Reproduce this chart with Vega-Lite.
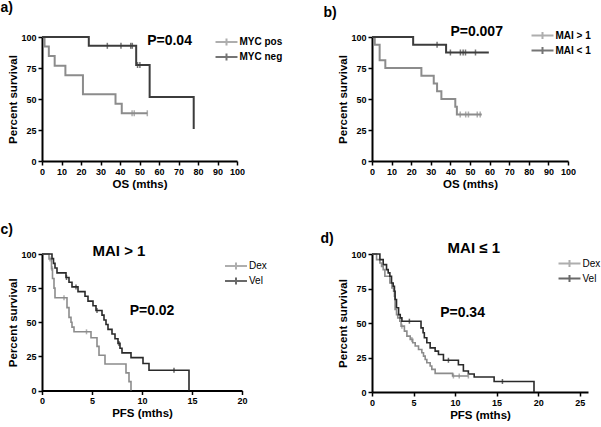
{
  "$schema": "https://vega.github.io/schema/vega-lite/v6.json",
  "background": "white",
  "padding": {"left": 0, "top": 1, "right": 0, "bottom": 0},
  "datasets": {
    "km": [
      {"p":"a","g":"MYC pos","t":0,"s":100},{"p":"a","g":"MYC pos","t":1.3,"s":92.3},{"p":"a","g":"MYC pos","t":3.5,"s":84.6},{"p":"a","g":"MYC pos","t":6.5,"s":76.9},{"p":"a","g":"MYC pos","t":12,"s":69.2},{"p":"a","g":"MYC pos","t":21,"s":53.8},{"p":"a","g":"MYC pos","t":37.7,"s":46.2},{"p":"a","g":"MYC pos","t":40.9,"s":38.5},{"p":"a","g":"MYC pos","t":54,"s":38.5},
      {"p":"a","g":"MYC neg","t":0,"s":100},{"p":"a","g":"MYC neg","t":24,"s":92.9},{"p":"a","g":"MYC neg","t":48.3,"s":77.4},{"p":"a","g":"MYC neg","t":55.2,"s":51.6},{"p":"a","g":"MYC neg","t":77.8,"s":25.8},
      {"p":"b","g":"MAI > 1","t":0,"s":100},{"p":"b","g":"MAI > 1","t":1.4,"s":93.75},{"p":"b","g":"MAI > 1","t":3.9,"s":81.25},{"p":"b","g":"MAI > 1","t":6.8,"s":75},{"p":"b","g":"MAI > 1","t":25.2,"s":68.75},{"p":"b","g":"MAI > 1","t":31.5,"s":62.5},{"p":"b","g":"MAI > 1","t":33.2,"s":56.25},{"p":"b","g":"MAI > 1","t":35.4,"s":50},{"p":"b","g":"MAI > 1","t":42.5,"s":43.75},{"p":"b","g":"MAI > 1","t":43.3,"s":37.5},{"p":"b","g":"MAI > 1","t":56,"s":37.5},
      {"p":"b","g":"MAI < 1","t":0,"s":100},{"p":"b","g":"MAI < 1","t":21,"s":93.75},{"p":"b","g":"MAI < 1","t":37.8,"s":87.5},{"p":"b","g":"MAI < 1","t":59.6,"s":87.5},
      {"p":"c","g":"Dex","t":0,"s":100},{"p":"c","g":"Dex","t":0.7,"s":96.4},{"p":"c","g":"Dex","t":0.95,"s":89.3},{"p":"c","g":"Dex","t":1.05,"s":82.1},{"p":"c","g":"Dex","t":1.2,"s":75},{"p":"c","g":"Dex","t":1.3,"s":67.9},{"p":"c","g":"Dex","t":2.5,"s":60.7},{"p":"c","g":"Dex","t":2.7,"s":53.6},{"p":"c","g":"Dex","t":2.9,"s":50},{"p":"c","g":"Dex","t":3.0,"s":46.4},{"p":"c","g":"Dex","t":3.2,"s":43},{"p":"c","g":"Dex","t":4.9,"s":38.7},{"p":"c","g":"Dex","t":5.5,"s":32.3},{"p":"c","g":"Dex","t":5.7,"s":25.8},{"p":"c","g":"Dex","t":6.3,"s":19.4},{"p":"c","g":"Dex","t":8.4,"s":12.9},{"p":"c","g":"Dex","t":8.7,"s":6.5},{"p":"c","g":"Dex","t":8.9,"s":0},
      {"p":"c","g":"Vel","t":0,"s":100},{"p":"c","g":"Vel","t":1.0,"s":96.6},{"p":"c","g":"Vel","t":1.15,"s":93.1},{"p":"c","g":"Vel","t":1.3,"s":89.7},{"p":"c","g":"Vel","t":1.5,"s":86.2},{"p":"c","g":"Vel","t":2.4,"s":82.8},{"p":"c","g":"Vel","t":2.7,"s":79.3},{"p":"c","g":"Vel","t":3.0,"s":75.9},{"p":"c","g":"Vel","t":3.6,"s":72.4},{"p":"c","g":"Vel","t":4.3,"s":69},{"p":"c","g":"Vel","t":4.6,"s":65.5},{"p":"c","g":"Vel","t":5.1,"s":62.1},{"p":"c","g":"Vel","t":5.4,"s":58.6},{"p":"c","g":"Vel","t":6.0,"s":55.2},{"p":"c","g":"Vel","t":6.2,"s":51.7},{"p":"c","g":"Vel","t":6.4,"s":48.3},{"p":"c","g":"Vel","t":6.6,"s":44.8},{"p":"c","g":"Vel","t":7.0,"s":41.4},{"p":"c","g":"Vel","t":7.3,"s":37.9},{"p":"c","g":"Vel","t":7.6,"s":34.5},{"p":"c","g":"Vel","t":7.8,"s":31},{"p":"c","g":"Vel","t":8.0,"s":27.6},{"p":"c","g":"Vel","t":8.9,"s":24.1},{"p":"c","g":"Vel","t":10.1,"s":19.8},{"p":"c","g":"Vel","t":10.7,"s":14.8},{"p":"c","g":"Vel","t":14.7,"s":0},
      {"p":"d","g":"Dex","t":0,"s":100},{"p":"d","g":"Dex","t":0.55,"s":95.9},{"p":"d","g":"Dex","t":0.95,"s":93.5},{"p":"d","g":"Dex","t":1.15,"s":91},{"p":"d","g":"Dex","t":1.35,"s":88.7},{"p":"d","g":"Dex","t":1.55,"s":83.9},{"p":"d","g":"Dex","t":2.15,"s":79},{"p":"d","g":"Dex","t":2.4,"s":75.4},{"p":"d","g":"Dex","t":2.6,"s":73},{"p":"d","g":"Dex","t":2.7,"s":69.4},{"p":"d","g":"Dex","t":2.78,"s":59.8},{"p":"d","g":"Dex","t":2.95,"s":56.1},{"p":"d","g":"Dex","t":3.1,"s":53.7},{"p":"d","g":"Dex","t":3.35,"s":51.3},{"p":"d","g":"Dex","t":3.5,"s":47.7},{"p":"d","g":"Dex","t":3.9,"s":44.1},{"p":"d","g":"Dex","t":4.2,"s":40.5},{"p":"d","g":"Dex","t":4.6,"s":38.1},{"p":"d","g":"Dex","t":4.9,"s":35.7},{"p":"d","g":"Dex","t":5.2,"s":33.3},{"p":"d","g":"Dex","t":5.6,"s":30.8},{"p":"d","g":"Dex","t":6.0,"s":28.4},{"p":"d","g":"Dex","t":6.2,"s":26},{"p":"d","g":"Dex","t":6.4,"s":23.6},{"p":"d","g":"Dex","t":6.6,"s":21.2},{"p":"d","g":"Dex","t":7.0,"s":18.8},{"p":"d","g":"Dex","t":7.2,"s":16.4},{"p":"d","g":"Dex","t":7.6,"s":13.5},{"p":"d","g":"Dex","t":9.7,"s":11.6},{"p":"d","g":"Dex","t":11.6,"s":11.6},
      {"p":"d","g":"Vel","t":0,"s":100},{"p":"d","g":"Vel","t":0.95,"s":95.9},{"p":"d","g":"Vel","t":1.35,"s":92.3},{"p":"d","g":"Vel","t":1.75,"s":88.7},{"p":"d","g":"Vel","t":1.95,"s":86.3},{"p":"d","g":"Vel","t":2.15,"s":83.9},{"p":"d","g":"Vel","t":2.35,"s":79},{"p":"d","g":"Vel","t":2.55,"s":76.6},{"p":"d","g":"Vel","t":2.7,"s":73},{"p":"d","g":"Vel","t":2.78,"s":67},{"p":"d","g":"Vel","t":2.95,"s":61},{"p":"d","g":"Vel","t":3.2,"s":56.1},{"p":"d","g":"Vel","t":3.4,"s":53.7},{"p":"d","g":"Vel","t":3.6,"s":51.3},{"p":"d","g":"Vel","t":5.9,"s":46.5},{"p":"d","g":"Vel","t":6.15,"s":42.9},{"p":"d","g":"Vel","t":6.3,"s":39.3},{"p":"d","g":"Vel","t":6.6,"s":35.7},{"p":"d","g":"Vel","t":7.0,"s":32},{"p":"d","g":"Vel","t":7.6,"s":29.6},{"p":"d","g":"Vel","t":8.0,"s":27.2},{"p":"d","g":"Vel","t":8.6,"s":23},{"p":"d","g":"Vel","t":10.4,"s":19.8},{"p":"d","g":"Vel","t":11.0,"s":15.2},{"p":"d","g":"Vel","t":11.6,"s":13},{"p":"d","g":"Vel","t":12.3,"s":10.9},{"p":"d","g":"Vel","t":14.7,"s":7.6},{"p":"d","g":"Vel","t":19.5,"s":0}
    ],
    "cens": [
      {"p":"a","g":"MYC pos","t":46.2,"s":38.5},{"p":"a","g":"MYC pos","t":47.3,"s":38.5},{"p":"a","g":"MYC pos","t":54,"s":38.5},
      {"p":"a","g":"MYC neg","t":33.5,"s":92.9},{"p":"a","g":"MYC neg","t":40.5,"s":92.9},{"p":"a","g":"MYC neg","t":45.5,"s":92.9},{"p":"a","g":"MYC neg","t":46.3,"s":92.9},{"p":"a","g":"MYC neg","t":49.0,"s":77.4},{"p":"a","g":"MYC neg","t":50.2,"s":77.4},
      {"p":"b","g":"MAI > 1","t":45,"s":37.5},{"p":"b","g":"MAI > 1","t":47.8,"s":37.5},{"p":"b","g":"MAI > 1","t":49.2,"s":37.5},{"p":"b","g":"MAI > 1","t":53.7,"s":37.5},{"p":"b","g":"MAI > 1","t":55.2,"s":37.5},
      {"p":"b","g":"MAI < 1","t":33.2,"s":93.75},{"p":"b","g":"MAI < 1","t":40,"s":87.5},{"p":"b","g":"MAI < 1","t":45.1,"s":87.5},{"p":"b","g":"MAI < 1","t":46.5,"s":87.5},{"p":"b","g":"MAI < 1","t":47.7,"s":87.5},{"p":"b","g":"MAI < 1","t":52.8,"s":87.5},
      {"p":"c","g":"Dex","t":0.8,"s":96.4},{"p":"c","g":"Dex","t":1.0,"s":89.3},{"p":"c","g":"Dex","t":2.2,"s":67.9},{"p":"c","g":"Dex","t":4.45,"s":43},
      {"p":"c","g":"Vel","t":2.45,"s":82.8},{"p":"c","g":"Vel","t":3.4,"s":75.9},{"p":"c","g":"Vel","t":5.5,"s":58.6},{"p":"c","g":"Vel","t":7.7,"s":34.5},{"p":"c","g":"Vel","t":13.2,"s":14.8},
      {"p":"d","g":"Dex","t":3.6,"s":47.7},{"p":"d","g":"Dex","t":4.8,"s":38.1},{"p":"d","g":"Dex","t":9.8,"s":11.6},{"p":"d","g":"Dex","t":10.5,"s":11.6},{"p":"d","g":"Dex","t":11.6,"s":11.6},
      {"p":"d","g":"Vel","t":4.5,"s":51.3},{"p":"d","g":"Vel","t":9.2,"s":23},{"p":"d","g":"Vel","t":15.7,"s":7.6}
    ]
  },
  "config": {
    "view": {"stroke": null},
    "font": "Liberation Sans",
    "axis": {"grid": false, "tickCount": 30, "format": "d", "labelFlush": false, "labelOverlap": false, "domainColor": "black", "domainWidth": 2, "tickColor": "black", "tickWidth": 1.5, "tickSize": 4, "labelFont": "Liberation Sans", "labelFontWeight": "bold", "labelFontSize": 9, "labelColor": "black", "labelPadding": 2, "titleFont": "Liberation Sans", "titleFontSize": 11.5, "titleFontWeight": "bold", "titleColor": "black", "titlePadding": 2},
    "legend": {"orient": "none", "title": null, "symbolType": "M-2.44,0H2.44M0,-0.8V0.8", "symbolSize": 81, "symbolStrokeWidth": 2, "labelFont": "Liberation Sans", "labelFontSize": 10, "labelColor": "black", "labelOffset": 7.5, "rowPadding": -2},
    "title": {"anchor": "start", "frame": "bounds", "fontSize": 14, "fontWeight": "bold", "font": "Liberation Sans", "color": "black"}
  },
  "columns": 2,
  "align": "none",
  "bounds": "flush",
  "spacing": {"row": 93, "column": 130},
  "resolve": {"scale": {"color": "independent"}, "legend": {"color": "independent"}},
  "concat": [
    {
      "width": 195, "height": 124,
      "title": {"text": "a)", "dx": -7.5, "offset": 18},
      "layer": [
        {"data": {"name": "km"}, "transform": [{"filter": "datum.p == 'a'"}],
         "mark": {"type": "line", "interpolate": "step-after", "strokeWidth": 2},
         "encoding": {
           "x": {"field": "t", "type": "quantitative", "scale": {"domain": [0, 100]}, "axis": {"values": [0,10,20,30,40,50,60,70,80,90,100], "title": "OS (mths)"}},
           "y": {"field": "s", "type": "quantitative", "scale": {"domain": [0, 100]}, "axis": {"values": [0,25,50,75,100], "title": "Percent survival"}},
           "color": {"field": "g", "type": "nominal", "scale": {"domain": ["MYC pos", "MYC neg"], "range": ["#8c8c8c", "#3c3c3c"]}, "legend": {"legendX": 179, "legendY": -0.5, "labelFontWeight": "bold"}},
           "order": {"field": "t"}
         }},
        {"data": {"name": "cens"}, "transform": [{"filter": "datum.p == 'a'"}],
         "mark": {"type": "tick", "orient": "vertical", "size": 6, "thickness": 1.5},
         "encoding": {"x": {"field": "t", "type": "quantitative"}, "y": {"field": "s", "type": "quantitative"}, "color": {"field": "g", "type": "nominal"}}},
        {"data": {"values": [{}]},
         "mark": {"type": "text", "fontSize": 14, "fontWeight": "bold", "font": "Liberation Sans", "color": "black", "align": "center", "baseline": "middle"},
         "encoding": {"x": {"datum": 65.4}, "y": {"datum": 97}, "text": {"value": "P=0.04"}}}
      ]
    },
    {
      "width": 196, "height": 124,
      "title": {"text": "b)", "dx": -14.5, "offset": 7, "dy": 2},
      "layer": [
        {"data": {"name": "km"}, "transform": [{"filter": "datum.p == 'b'"}],
         "mark": {"type": "line", "interpolate": "step-after", "strokeWidth": 2},
         "encoding": {
           "x": {"field": "t", "type": "quantitative", "scale": {"domain": [0, 100]}, "axis": {"values": [0,10,20,30,40,50,60,70,80,90,100], "title": "OS (mths)"}},
           "y": {"field": "s", "type": "quantitative", "scale": {"domain": [0, 100]}, "axis": {"values": [0,25,50,75,100], "title": "Percent survival"}},
           "color": {"field": "g", "type": "nominal", "scale": {"domain": ["MAI > 1", "MAI < 1"], "range": ["#8c8c8c", "#3c3c3c"]}, "legend": {"legendX": 165, "legendY": -7, "labelFontWeight": "bold"}},
           "order": {"field": "t"}
         }},
        {"data": {"name": "cens"}, "transform": [{"filter": "datum.p == 'b'"}],
         "mark": {"type": "tick", "orient": "vertical", "size": 6, "thickness": 1.5},
         "encoding": {"x": {"field": "t", "type": "quantitative"}, "y": {"field": "s", "type": "quantitative"}, "color": {"field": "g", "type": "nominal"}}},
        {"data": {"values": [{}]},
         "mark": {"type": "text", "fontSize": 14, "fontWeight": "bold", "font": "Liberation Sans", "color": "black", "align": "center", "baseline": "middle"},
         "encoding": {"x": {"datum": 53.4}, "y": {"datum": 103.7}, "text": {"value": "P=0.007"}}}
      ]
    },
    {
      "width": 200, "height": 136.5,
      "title": {"text": "c)", "dx": -7.5, "offset": 7.7},
      "layer": [
        {"data": {"name": "km"}, "transform": [{"filter": "datum.p == 'c'"}],
         "mark": {"type": "line", "interpolate": "step-after", "strokeWidth": 1.6},
         "encoding": {
           "x": {"field": "t", "type": "quantitative", "scale": {"domain": [0, 20]}, "axis": {"values": [0,5,10,15,20], "title": "PFS (mths)"}},
           "y": {"field": "s", "type": "quantitative", "scale": {"domain": [0, 100]}, "axis": {"values": [0,25,50,75,100], "title": "Percent survival"}},
           "color": {"field": "g", "type": "nominal", "scale": {"domain": ["Dex", "Vel"], "range": ["#8c8c8c", "#2a2a2a"]}, "legend": {"legendX": 188.5, "legendY": 6.5, "labelFontWeight": "normal"}},
           "order": {"field": "t"}
         }},
        {"data": {"name": "cens"}, "transform": [{"filter": "datum.p == 'c'"}],
         "mark": {"type": "tick", "orient": "vertical", "size": 5, "thickness": 1.5},
         "encoding": {"x": {"field": "t", "type": "quantitative"}, "y": {"field": "s", "type": "quantitative"}, "color": {"field": "g", "type": "nominal"}}},
        {"data": {"values": [{}]},
         "mark": {"type": "text", "fontSize": 15, "fontWeight": "bold", "font": "Liberation Sans", "color": "black", "align": "center", "baseline": "middle"},
         "encoding": {"x": {"datum": 7.7}, "y": {"datum": 102}, "text": {"value": "MAI > 1"}}},
        {"data": {"values": [{}]},
         "mark": {"type": "text", "fontSize": 14, "fontWeight": "bold", "font": "Liberation Sans", "color": "black", "align": "center", "baseline": "middle"},
         "encoding": {"x": {"datum": 11.0}, "y": {"datum": 58.2}, "text": {"value": "P=0.02"}}}
      ]
    },
    {
      "width": 216, "height": 138,
      "title": {"text": "d)", "dx": -17.5, "offset": 1, "dy": 6},
      "layer": [
        {"data": {"name": "km"}, "transform": [{"filter": "datum.p == 'd'"}],
         "mark": {"type": "line", "interpolate": "step-after", "strokeWidth": 1.6},
         "encoding": {
           "x": {"field": "t", "type": "quantitative", "scale": {"domain": [0, 25]}, "axis": {"values": [0,5,10,15,20,25], "title": "PFS (mths)"}},
           "y": {"field": "s", "type": "quantitative", "scale": {"domain": [0, 100]}, "axis": {"values": [0,25,50,75,100], "title": "Percent survival"}},
           "color": {"field": "g", "type": "nominal", "scale": {"domain": ["Dex", "Vel"], "range": ["#8c8c8c", "#2a2a2a"]}, "legend": {"legendX": 192, "legendY": 4, "labelFontWeight": "normal"}},
           "order": {"field": "t"}
         }},
        {"data": {"name": "cens"}, "transform": [{"filter": "datum.p == 'd'"}],
         "mark": {"type": "tick", "orient": "vertical", "size": 5, "thickness": 1.5},
         "encoding": {"x": {"field": "t", "type": "quantitative"}, "y": {"field": "s", "type": "quantitative"}, "color": {"field": "g", "type": "nominal"}}},
        {"data": {"values": [{}]},
         "mark": {"type": "text", "fontSize": 15, "fontWeight": "bold", "font": "Liberation Sans", "color": "black", "align": "center", "baseline": "middle"},
         "encoding": {"x": {"datum": 12.25}, "y": {"datum": 104.6}, "text": {"value": "MAI ≤ 1"}}},
        {"data": {"values": [{}]},
         "mark": {"type": "text", "fontSize": 14, "fontWeight": "bold", "font": "Liberation Sans", "color": "black", "align": "center", "baseline": "middle"},
         "encoding": {"x": {"datum": 10.9}, "y": {"datum": 57}, "text": {"value": "P=0.34"}}}
      ]
    }
  ]
}
